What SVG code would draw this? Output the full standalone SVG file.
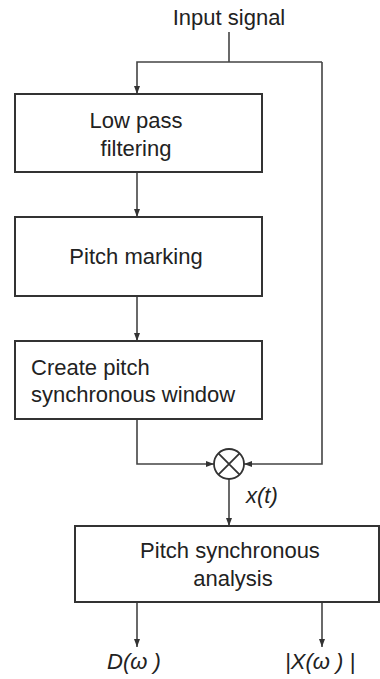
<svg xmlns="http://www.w3.org/2000/svg" width="380" height="679" viewBox="0 0 380 679">
<defs>
<marker id="ah" viewBox="0 0 8 8" refX="8" refY="4" markerWidth="8" markerHeight="8" markerUnits="userSpaceOnUse" orient="auto">
<path d="M0,1 L8,4 L0,7 Z" fill="#333"/>
</marker>
</defs>
<style>
.box{fill:#fff;stroke:#333;stroke-width:2}
.ln{fill:none;stroke:#444;stroke-width:1.6}
.t{font-family:"Liberation Sans",Arial,sans-serif;font-size:22px;fill:#222}
.c{text-anchor:middle}
.i{font-style:italic}
</style>
<rect width="380" height="679" fill="#fff"/>
<g id="connectors">
<polyline class="ln" points="229,32 229,62"/>
<polyline class="ln" points="322,62 137,62 137,94" marker-end="url(#ah)"/>
<polyline class="ln" points="322,62 322,464 244,464" marker-end="url(#ah)"/>
<line class="ln" x1="137" y1="172" x2="137" y2="217" marker-end="url(#ah)"/>
<line class="ln" x1="137" y1="296" x2="137" y2="341" marker-end="url(#ah)"/>
<polyline class="ln" points="137,419 137,464 214,464" marker-end="url(#ah)"/>
<line class="ln" x1="229" y1="479" x2="229" y2="526" marker-end="url(#ah)"/>
<line class="ln" x1="137" y1="602" x2="137" y2="647" marker-end="url(#ah)"/>
<line class="ln" x1="322" y1="602" x2="322" y2="647" marker-end="url(#ah)"/>
</g>
<g id="input">
<text class="t c" x="229" y="25">Input signal</text>
</g>
<g id="lpf">
<rect class="box" x="15" y="94" width="247" height="78"/>
<text class="t c" x="136" y="128">Low pass</text>
<text class="t c" x="136" y="156">filtering</text>
</g>
<g id="pm">
<rect class="box" x="15" y="217" width="247" height="79"/>
<text class="t c" x="136" y="264">Pitch marking</text>
</g>
<g id="win">
<rect class="box" x="15" y="341" width="247" height="78"/>
<text class="t" x="31" y="375">Create pitch</text>
<text class="t" x="31" y="402">synchronous window</text>
</g>
<g id="mult">
<circle cx="229" cy="464" r="15" fill="#fff" stroke="#333" stroke-width="1.8"/>
<path d="M218.4,453.4 L239.6,474.6 M239.6,453.4 L218.4,474.6" stroke="#333" stroke-width="1.8"/>
</g>
<g id="xt">
<text class="t i" x="246" y="503">x(t)</text>
</g>
<g id="psa">
<rect class="box" x="75" y="526" width="304" height="76"/>
<text class="t c" x="230" y="558">Pitch synchronous</text>
<text class="t c" x="233" y="586">analysis</text>
</g>
<g id="dw">
<text class="t i" x="107" y="669">D(ω )</text>
</g>
<g id="xw">
<text class="t i" x="285" y="669">|X(ω ) |</text>
</g>
</svg>
